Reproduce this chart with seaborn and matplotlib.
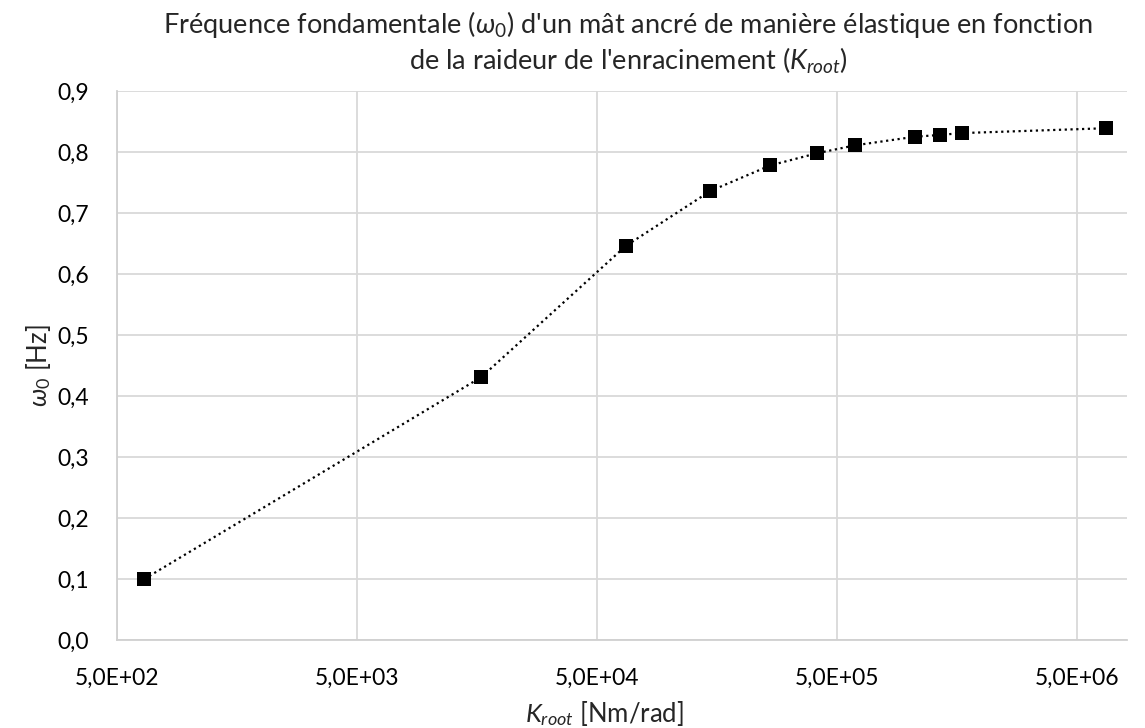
import matplotlib
matplotlib.use("Agg")
import matplotlib.pyplot as plt
import matplotlib.ticker as mticker
import seaborn as sns
import pandas as pd

# raideur de l'enracinement [Nm/rad] et fréquence fondamentale [Hz]
k_root = [650, 16500, 66000, 148500, 264000, 414000, 597000,
          1057000, 1347000, 1658000, 6650000]
omega0 = [0.100, 0.431, 0.646, 0.736, 0.778, 0.798, 0.811,
          0.825, 0.828, 0.831, 0.839]

x_ticks = [5e2, 5e3, 5e4, 5e5, 5e6]
x_tick_labels = ["5,0E+02", "5,0E+03", "5,0E+04", "5,0E+05", "5,0E+06"]
y_ticks = [0.0, 0.1, 0.2, 0.3, 0.4, 0.5, 0.6, 0.7, 0.8, 0.9]
y_tick_labels = ["0,0", "0,1", "0,2", "0,3", "0,4", "0,5", "0,6", "0,7", "0,8", "0,9"]

df = pd.DataFrame({"K": k_root, "w0": omega0})

sns.set_style("white")
plt.rcParams["font.family"] = ["Lato", "DejaVu Sans"]
plt.rcParams["mathtext.fontset"] = "custom"
plt.rcParams["mathtext.rm"] = "Lato"
plt.rcParams["mathtext.it"] = "Lato:italic"

fig = plt.figure(figsize=(11.45, 7.28), dpi=100)
ax = fig.add_axes([117 / 1145, 1 - 640 / 728, (1127 - 117) / 1145, (640 - 91) / 728])

sns.lineplot(data=df, x="K", y="w0", ax=ax, color="black",
             linestyle=(0, (1, 1.6)), linewidth=1.6,
             marker="s", markersize=10, markeredgewidth=0)

ax.set_xscale("log")
ax.set_xlim(500, 8.1e6)
ax.set_ylim(0, 0.9)
ax.xaxis.set_major_locator(mticker.FixedLocator(x_ticks))
ax.xaxis.set_minor_locator(mticker.NullLocator())
ax.set_xticklabels(x_tick_labels)
ax.set_yticks(y_ticks)
ax.set_yticklabels(y_tick_labels)
ax.tick_params(axis="both", labelsize=16.5, length=0, colors="black")
ax.tick_params(axis="x", pad=20)
ax.tick_params(axis="y", pad=20)

ax.grid(True, color="#d9d9d9", linewidth=1.3)
ax.set_axisbelow(True)
for side in ["top", "right"]:
    ax.spines[side].set_visible(False)
for side in ["left", "bottom"]:
    ax.spines[side].set_color("#d0d0d0")
    ax.spines[side].set_linewidth(1.3)

ax.set_xlabel(r"$K_{root}$ [Nm/rad]", fontsize=18.5)
ax.xaxis.set_label_coords(0.483, -0.108)
ax.set_ylabel(r"$\omega_{\mathit{0}}$ [Hz]", fontsize=18.5, labelpad=3)
ax.set_title("Fréquence fondamentale ($\\omega_{\\mathit{0}}$) d'un mât ancré de manière élastique en fonction\n"
             "de la raideur de l'enracinement ($K_{root}$)",
             fontsize=19.5, pad=15, linespacing=1.25, x=0.506)

fig.savefig("out.png", dpi=100)
